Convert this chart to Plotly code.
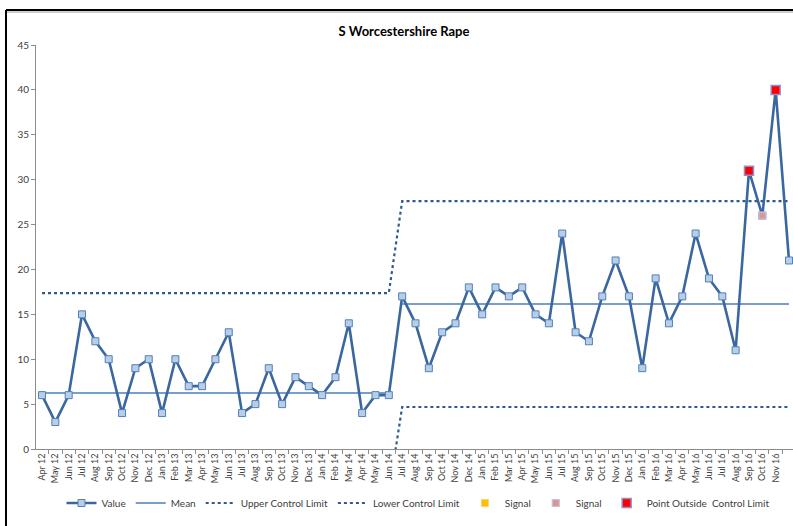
import plotly.graph_objects as go

months = ["Apr 12", "May 12", "Jun 12", "Jul 12", "Aug 12", "Sep 12", "Oct 12", "Nov 12", "Dec 12",
          "Jan 13", "Feb 13", "Mar 13", "Apr 13", "May 13", "Jun 13", "Jul 13", "Aug 13", "Sep 13",
          "Oct 13", "Nov 13", "Dec 13", "Jan 14", "Feb 14", "Mar 14", "Apr 14", "May 14", "Jun 14",
          "Jul 14", "Aug 14", "Sep 14", "Oct 14", "Nov 14", "Dec 14", "Jan 15", "Feb 15", "Mar 15",
          "Apr 15", "May 15", "Jun 15", "Jul 15", "Aug 15", "Sep 15", "Oct 15", "Nov 15", "Dec 15",
          "Jan 16", "Feb 16", "Mar 16", "Apr 16", "May 16", "Jun 16", "Jul 16", "Aug 16", "Sep 16",
          "Oct 16", "Nov 16", "Dec 16"]

values = [6, 3, 6, 15, 12, 10, 4, 9, 10, 4, 10, 7, 7, 10, 13, 4, 5, 9, 5, 8, 7, 6, 8, 14, 4, 6, 6,
          17, 14, 9, 13, 14, 18, 15, 18, 17, 18, 15, 14, 24, 13, 12, 17, 21, 17, 9, 19, 14, 17, 24,
          19, 17, 11, 31, 26, 40, 21]

# control chart phases: (number of points, mean, upper limit, lower limit)
phase_lengths = [27, 30]
phase_means = [6.24, 16.15]
phase_ucl = [17.37, 27.6]
phase_lcl = [-4.89, 4.68]

# flagged points (month labels)
signal_orange = []
signal_pink = ["Oct 16"]
outside_limit = ["Sep 16", "Nov 16"]

idx = list(range(len(months)))
mean_x, mean_y, ucl_y, lcl_y = [], [], [], []
start = 0
for n, m, u, l in zip(phase_lengths, phase_means, phase_ucl, phase_lcl):
    for i in range(start, start + n):
        mean_x.append(i)
        mean_y.append(m)
        ucl_y.append(u)
        lcl_y.append(l)
    mean_x.append(start + n - 0.5)
    mean_y.append(None)
    start += n
mean_x, mean_y = mean_x[:-1], mean_y[:-1]

def pts(labels):
    xs = [months.index(s) for s in labels]
    ys = [values[i] for i in xs]
    return xs, ys

line_col = "#3A679F"
lim_col = "#2E5A8C"
font = "Lato, 'Open Sans', sans-serif"

fig = go.Figure()
# limits first so the value line draws above them
fig.add_trace(go.Scatter(x=idx, y=ucl_y, mode="lines", name="Upper Control Limit", legendrank=3,
                         line=dict(color=lim_col, width=2.2, dash="dot")))
fig.add_trace(go.Scatter(x=idx, y=lcl_y, mode="lines", name="Lower Control Limit", legendrank=4,
                         line=dict(color=lim_col, width=2.2, dash="dot")))
fig.add_trace(go.Scatter(x=mean_x, y=mean_y, mode="lines", name="Mean", legendrank=2,
                         line=dict(color="#4A7EBB", width=1.6), connectgaps=False))
fig.add_trace(go.Scatter(x=idx, y=values, mode="lines+markers", name="Value", legendrank=1,
                         line=dict(color=line_col, width=2.6),
                         marker=dict(symbol="square", size=7, color="#B9CDE5",
                                     line=dict(color="#4F81BD", width=1))))
ox, oy = pts(signal_orange)
fig.add_trace(go.Scatter(x=ox if ox else [None], y=oy if oy else [None], mode="markers", name="Signal",
                         legendrank=5,
                         marker=dict(symbol="square", size=7, color="#FFC000",
                                     line=dict(color="#F4D27A", width=1))))
px_, py_ = pts(signal_pink)
fig.add_trace(go.Scatter(x=px_, y=py_, mode="markers", name="Signal", legendrank=6,
                         marker=dict(symbol="square", size=7, color="#D99694",
                                     line=dict(color="#C4C4DC", width=1.2))))
rx, ry = pts(outside_limit)
fig.add_trace(go.Scatter(x=rx, y=ry, mode="markers", name="Point Outside  Control Limit", legendrank=7,
                         marker=dict(symbol="square", size=9, color="#FF0000",
                                     line=dict(color="#9090C8", width=1.5))))

W, H = 793, 526
L, R, T, B = 36, 0, 45, 77
pw, ph = W - L - R, H - T - B

def xp(p):
    return (p - L) / pw

def yp(p):
    return (H - B - p) / ph

fig.update_layout(
    width=W, height=H,
    margin=dict(l=L, r=R, t=T, b=B),
    paper_bgcolor="white", plot_bgcolor="white",
    font=dict(family=font, color="#404040", size=10),
    title=dict(text="<b>S Worcestershire Rape</b>", x=(404) / W, xanchor="center",
               y=1 - 31 / H, yanchor="middle", font=dict(size=13, color="#000000", family=font)),
    showlegend=True,
    legend=dict(orientation="h", x=xp(418), xanchor="center", y=yp(503), yanchor="middle",
                font=dict(size=10, color="#404040"), itemwidth=30,
                traceorder="normal", bgcolor="rgba(0,0,0,0)"),
    xaxis=dict(range=[-0.45, 56.3], tickmode="array", tickvals=idx, ticktext=months,
               tickangle=-90, tickfont=dict(size=9, color="#404040"), ticks="",
               showgrid=False, zeroline=False, showline=True, linecolor="#8C8C8C", linewidth=1,
               minor=dict(tick0=-0.5, dtick=1, ticks="outside", ticklen=4, tickcolor="#8C8C8C",
                          showgrid=False)),
    yaxis=dict(range=[0, 45], dtick=5, tickfont=dict(size=10, color="#404040"),
               ticks="outside", ticklen=4, tickcolor="#8C8C8C", showgrid=False, zeroline=False,
               showline=True, linecolor="#8C8C8C", linewidth=1),
    shapes=[
        dict(type="line", xref="paper", yref="paper", x0=xp(6), x1=xp(6), y0=yp(10), y1=yp(526),
             line=dict(color="#000000", width=2)),
        dict(type="line", xref="paper", yref="paper", x0=xp(6), x1=xp(793), y0=yp(10), y1=yp(10),
             line=dict(color="#000000", width=2)),
        dict(type="line", xref="paper", yref="paper", x0=xp(7), x1=xp(793), y0=yp(12), y1=yp(12),
             line=dict(color="#A0A0A0", width=1)),
    ],
)

fig.write_html("out.html", config={"displayModeBar": False},
               post_script="document.body.style.margin='0px';document.body.style.overflow='hidden';")
